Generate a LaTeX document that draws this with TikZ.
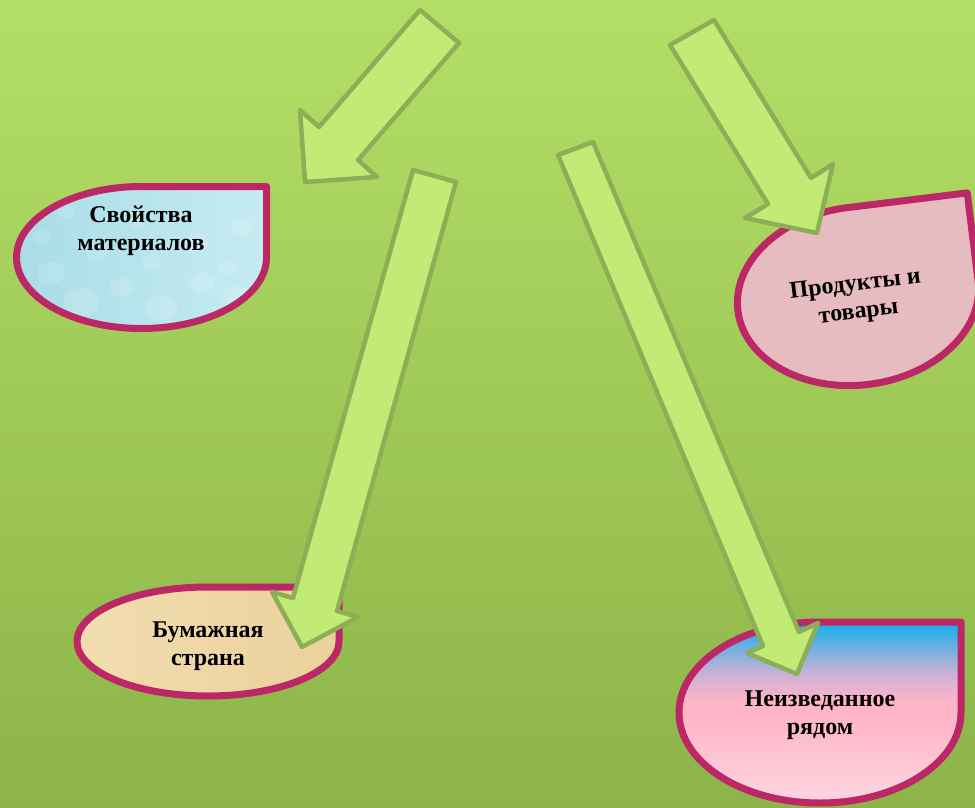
\documentclass[tikz,border=0pt]{standalone}
\usepackage{fontspec}
\setmainfont{Liberation Serif}
\usepackage{tikz}

\definecolor{bgtop}{HTML}{B3DF66}
\definecolor{bgbottom}{HTML}{8CB449}
\definecolor{arrowfill}{HTML}{C2EB75}
\definecolor{arrowline}{HTML}{8CAE57}
\definecolor{dropline}{HTML}{BC2866}
\definecolor{waterA}{HTML}{A9DCE7}
\definecolor{waterB}{HTML}{C6ECF2}
\definecolor{roseA}{HTML}{E7BCC1}
\definecolor{paperA}{HTML}{EBD19B}
\definecolor{paperB}{HTML}{F2DDB0}
\definecolor{skyblue}{HTML}{10AEEA}
\definecolor{lilac}{HTML}{C8B2D6}
\definecolor{pinkmid}{HTML}{FFB4C8}
\definecolor{pinklow}{HTML}{FDD6E1}

\pgfdeclareverticalshading{skypink}{100bp}{color(0bp)=(pinklow); color(25bp)=(pinklow);
  color(49bp)=(pinkmid); color(53bp)=(pinkmid); color(61bp)=(lilac); color(75bp)=(skyblue); color(100bp)=(skyblue)}

\tikzset{
  bigarrow/.style={fill=arrowfill, draw=arrowline, line width=4.5pt, line join=round},
  dropshape/.style={draw=dropline, line width=7pt, line join=round},
  droptext/.style={font=\bfseries\fontsize{24}{28}\selectfont, align=center, text=black},
}
% teardrop round the origin, square corner at the upper right
\newcommand{\drop}[2]{(#1,0) arc[start angle=0, end angle=270, x radius=#1, y radius=#2] -- (#1,-#2) -- cycle}

\begin{document}
\begin{tikzpicture}[x=1pt, y=-1pt]
\useasboundingbox (0,0) rectangle (975,808);
\shade[top color=bgtop, bottom color=bgbottom] (0,0) rectangle (975,808);

% the four drops
\begin{scope}[shift={(141.5,257.5)}]
\shade[left color=waterA, right color=waterB] \drop{125}{71};
\begin{scope}
\clip \drop{125}{71};
% water drops
\foreach \dx/\dy/\dr in {-90/15/14, -60/45/18, -20/30/12, 20/50/16, 60/25/13, 95/40/15,
    -100/-20/9, -45/-5/11, 10/5/10, 55/-15/12, 100/-30/10, -75/-45/8, 85/10/9, -5/-35/7}
  \fill[white, opacity=0.14] (\dx,\dy) ellipse[x radius=\dr, y radius=0.8*\dr];
\end{scope}
\draw[dropshape] \drop{125}{71};
\end{scope}
\begin{scope}[shift={(208,641.5)}]
\draw[dropshape, left color=paperB, right color=paperA] \drop{131}{54.5};
\end{scope}
\begin{scope}[shift={(858,296)}, rotate=7]
\draw[dropshape, fill=roseA] \drop{121}{89};
\end{scope}
\begin{scope}[shift={(820,712.5)}]
\draw[dropshape, shading=skypink] \drop{141}{90.5};
\end{scope}

\node[droptext] (props) at (141,231) {Свойства\\материалов};
\node[droptext] (paper) at (208,646) {Бумажная\\страна};
\node[droptext, rotate=7] (goods) at (857,299) {Продукты и\\товары};
\node[droptext] (unknown) at (820,715) {Неизведанное\\рядом};

% the arrows
\draw[bigarrow] (420,10) -- (319,127) -- (300,110) -- (305,182) -- (377,177) -- (358,160) -- (459,43) -- cycle;
\draw[bigarrow] (413,170) -- (293,598) -- (272,592) -- (302,647) -- (358,617) -- (337,611) -- (456,182) -- cycle;
\draw[bigarrow] (558,155) -- (763,646) -- (747,653) -- (797,674) -- (818,623) -- (799,632) -- (593,142) -- cycle;
\draw[bigarrow] (670,45) -- (768,204) -- (745,218) -- (817,233) -- (833,164) -- (811,178) -- (714,20) -- cycle;
\end{tikzpicture}
\end{document}
